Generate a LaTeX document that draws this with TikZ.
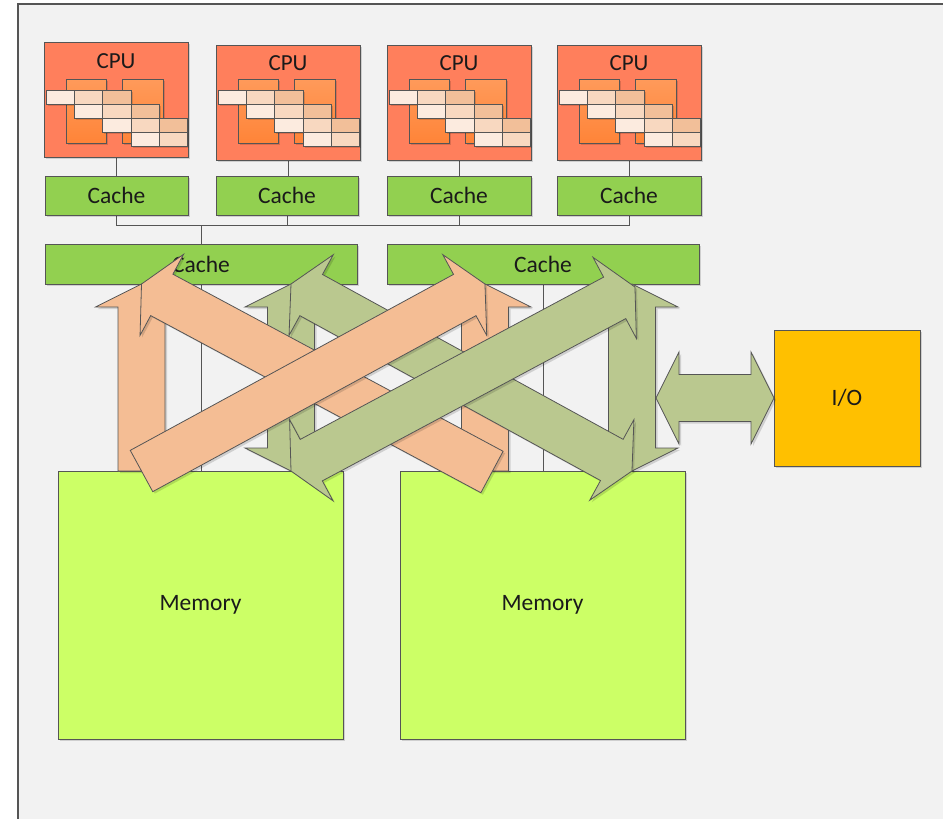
\documentclass[tikz,border=0pt]{standalone}
\usepackage{fontspec}
\setmainfont{Carlito}
\usetikzlibrary{shadows}
\definecolor{bgc}{HTML}{F2F2F2}
\definecolor{edgec}{HTML}{555555}
\definecolor{txtc}{HTML}{1A1A1A}
\definecolor{cpuc}{HTML}{FF7F5C}
\definecolor{coretop}{HTML}{FF9A5A}
\definecolor{corebot}{HTML}{FF8438}
\definecolor{sqa}{HTML}{FCEBDF}
\definecolor{sqb}{HTML}{F8D8C0}
\definecolor{sqc}{HTML}{F2BF99}
\definecolor{cachec}{HTML}{92D050}
\definecolor{memc}{HTML}{CCFF66}
\definecolor{ioc}{HTML}{FFC000}
\definecolor{oarr}{HTML}{F4BD94}
\definecolor{garr}{HTML}{BAC88F}
\pgfdeclarelayer{bg}
\pgfsetlayers{bg,main}
\def\arrhl{23}
\def\arrsw{23.5}
\def\arrhw{46}
\newcommand\blkprep[2]{%
  \path (#1); \pgfgetlastxy{\blkax}{\blkay}%
  \path (#2); \pgfgetlastxy{\blkbx}{\blkby}%
  \pgfmathsetmacro\blkang{atan2((\blkby)-(\blkay),(\blkbx)-(\blkax))}%
  \pgfmathsetmacro\blklen{veclen((\blkbx)-(\blkax),(\blkby)-(\blkay))}%
  \pgfmathsetmacro\blkneck{\blklen-\arrhl}}
\newcommand\blkS[3]{%
  \blkprep{#1}{#2}%
  \begin{scope}[shift={(#1)},rotate=\blkang]
    \draw[#3] (0,-\arrsw) -- (\blkneck,-\arrsw) -- (\blkneck,-\arrhw) -- (\blklen,0)
      -- (\blkneck,\arrhw) -- (\blkneck,\arrsw) -- (0,\arrsw) -- cycle;
  \end{scope}}
\newcommand\blkD[3]{%
  \blkprep{#1}{#2}%
  \begin{scope}[shift={(#1)},rotate=\blkang]
    \draw[#3] (0,0) -- (\arrhl,\arrhw) -- (\arrhl,\arrsw) -- (\blkneck,\arrsw)
      -- (\blkneck,\arrhw) -- (\blklen,0) -- (\blkneck,-\arrhw) -- (\blkneck,-\arrsw)
      -- (\arrhl,-\arrsw) -- (\arrhl,-\arrhw) -- cycle;
  \end{scope}}
\newcommand\cpuinner[1]{%
  \foreach \cx in {22,78.7}{%
    \draw[core] ({#1+\cx},-79.3) rectangle ({#1+\cx+40.3},-143.3);}
  \foreach \r/\ya/\yb in {0/90.7/104.4,1/104.4/118.3,2/118.3/132.3,3/132.3/146.5}{%
    \foreach \k/\sc in {0/sqa,1/sqb,2/sqc}{%
      \pgfmathtruncatemacro\cc{\r+\k}%
      \ifnum\cc<5
        \draw[sq,fill=\sc] ({#1+2+\cc*28.35},-\ya) rectangle ({#1+2+(\cc+1)*28.35},-\yb);
      \fi}}}
\tikzset{
  shad/.style={drop shadow={shadow xshift=2pt,shadow yshift=-2pt,opacity=0.14,fill=black}},
  box/.style={draw=edgec,line width=0.8pt,inner sep=0pt,outer sep=0pt,anchor=north west,
    shad,font=\fontsize{23.5}{28}\selectfont,text=txtc},
  lbl/.style={inner sep=0pt,font=\fontsize{23}{28}\selectfont,text=txtc},
  cpubox/.style={box,fill=cpuc,minimum width=144,minimum height=115},
  cachebox/.style={box,fill=cachec,minimum height=39},
  l2box/.style={box,fill=cachec,minimum width=312,minimum height=40},
  membox/.style={box,fill=memc,minimum width=285,minimum height=268},
  iobox/.style={box,fill=ioc,minimum width=146,minimum height=136},
  core/.style={draw=edgec,line width=0.8pt,top color=coretop,bottom color=corebot,
    drop shadow={shadow xshift=1.5pt,shadow yshift=-1.5pt,opacity=0.14,fill=black}},
  sq/.style={draw=edgec,line width=0.7pt,
    drop shadow={shadow xshift=1.5pt,shadow yshift=-1.5pt,opacity=0.14,fill=black}},
  conn/.style={draw=edgec,line width=0.8pt},
  oarrow/.style={fill=oarr,draw=edgec,line width=0.8pt,line join=miter,shad},
  garrow/.style={fill=garr,draw=edgec,line width=0.8pt,line join=miter,shad}
}
\begin{document}
\begin{tikzpicture}[x=1pt,y=1pt]
\useasboundingbox (0,0) rectangle (943,-819);
% CPUs
\node[cpubox] (cpu1) at (44,-42) {};
\node[cpubox] (cpu2) at (216,-45) {};
\node[cpubox] (cpu3) at (387,-45) {};
\node[cpubox] (cpu4) at (557,-45) {};
\cpuinner{44}
\cpuinner{216}
\cpuinner{387}
\cpuinner{557}
\node[lbl] (cpu1t) at ([yshift=-19.5]cpu1.north) {CPU};
\node[lbl] (cpu2t) at ([yshift=-18.5]cpu2.north) {CPU};
\node[lbl] (cpu3t) at ([yshift=-18.5]cpu3.north) {CPU};
\node[lbl] (cpu4t) at ([yshift=-18.5]cpu4.north) {CPU};
% L1 caches
\node[cachebox,minimum width=143] (c1) at (45,-176) {Cache};
\node[cachebox,minimum width=142] (c2) at (216,-176) {Cache};
\node[cachebox,minimum width=144] (c3) at (387,-176) {Cache};
\node[cachebox,minimum width=144] (c4) at (557,-176) {Cache};
% L2 caches
\node[l2box] (l2a) at (45,-244) {Cache};
\node[l2box] (l2b) at (387,-244) {Cache};
% memories and I/O
\node[membox] (mem1) at (58,-471) {Memory};
\node[membox] (mem2) at (400,-471) {Memory};
\node[iobox] (io) at (774,-330) {I/O};
% background and connectors
\begin{pgfonlayer}{bg}
  \fill[white] (0,0) rectangle (943,-819);
  \fill[bgc] (18,-4) rectangle (943,-819);
  \draw[draw=edgec,line width=1.2pt] (18,-819) -- (18,-4) -- (943,-4);
  \coordinate (bus) at (0,-225);
  \draw[conn] (cpu1.south) -- (cpu1.south |- c1.north);
  \draw[conn] (cpu2.south) -- (cpu2.south |- c2.north);
  \draw[conn] (cpu3.south) -- (cpu3.south |- c3.north);
  \draw[conn] (cpu4.south) -- (cpu4.south |- c4.north);
  \draw[conn] (c1.south) |- (c4.south |- bus) -- (c4.south);
  \draw[conn] (c2.south) -- (c2.south |- bus);
  \draw[conn] (c3.south) -- (c3.south |- bus);
  \draw[conn] (l2a.north) -- (l2a.north |- bus);
  \draw[conn] (l2a.south) -- (l2a.south |- mem1.north);
  \draw[conn] (l2b.south) -- (l2b.south |- mem2.north);
\end{pgfonlayer}
% arrow end points
\coordinate (pL1) at (141.5,-284);
\coordinate (pL2) at (291,-284);
\coordinate (pR1) at (485,-284);
\coordinate (pR2) at (632,-284);
\coordinate (mL1) at (141.5,-471);
\coordinate (mL2) at (291,-471);
\coordinate (mR1) at (485,-471);
\coordinate (mR2) at (632,-471);
\coordinate (oAtail) at (492,-472);
\coordinate (gBtip) at (635,-287);
\coordinate (ioL) at (656,-398);
% block arrows
\blkS{mL1}{pL1}{oarrow}
\blkD{mL2}{pL2}{garrow}
\blkS{mR1}{pR1}{oarrow}
\blkD{mR2}{pR2}{garrow}
\blkD{pL2}{mR2}{garrow}
\blkS{oAtail}{pL1}{oarrow}
\blkS{mL1}{pR1}{oarrow}
\blkD{mL2}{gBtip}{garrow}
\blkD{ioL}{io.west}{garrow}
\end{tikzpicture}
\end{document}
